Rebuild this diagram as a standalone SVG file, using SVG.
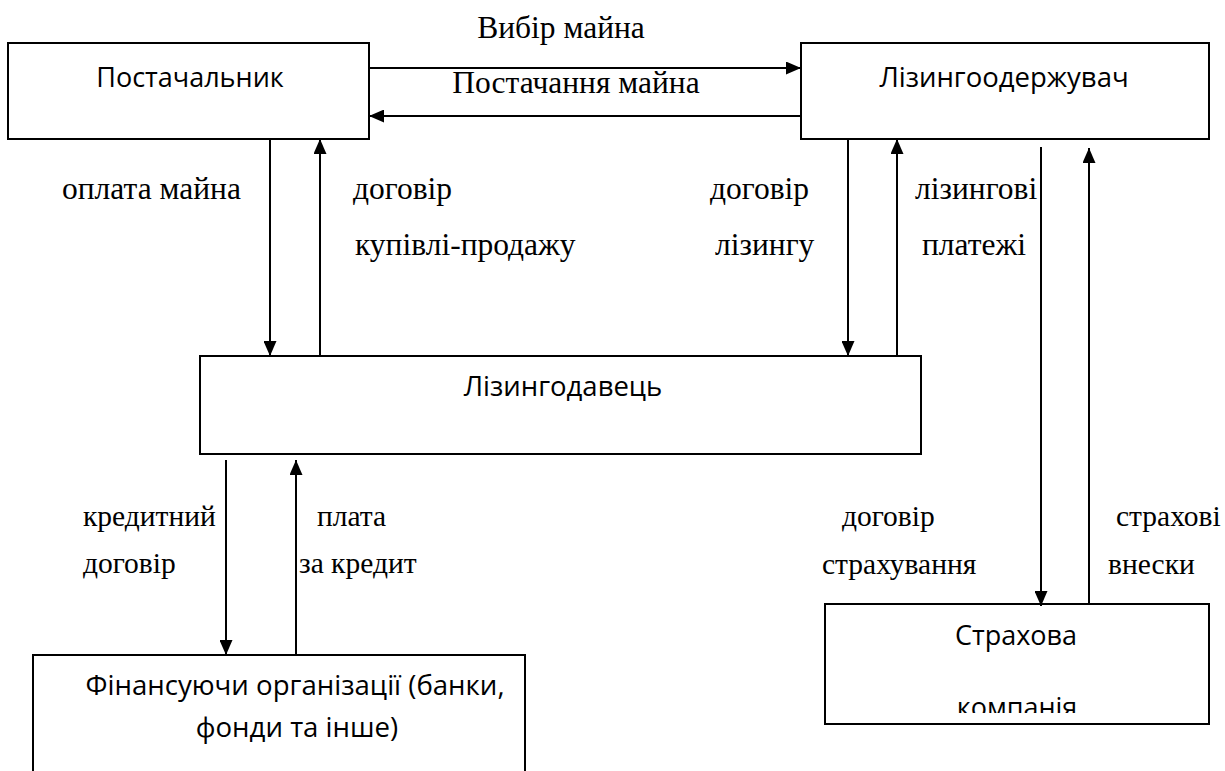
<svg xmlns="http://www.w3.org/2000/svg" width="1225" height="771" viewBox="0 0 1225 771">
<defs>
<marker id="ah" viewBox="0 0 15 13" refX="15" refY="6.5" markerWidth="15" markerHeight="13" markerUnits="userSpaceOnUse" orient="auto">
<path d="M0,0 L15,6.5 L0,13 Z" fill="#000"/>
</marker>
<clipPath id="clipIns"><rect x="825" y="603" width="386" height="110"/></clipPath>
</defs>
<style>
.box{fill:#fff;stroke:#000;stroke-width:2}
.node{font-family:"Open Sans","Noto Sans","DejaVu Sans",sans-serif;font-size:27px;fill:#000}
.lbl{font-family:"Liberation Serif","Times New Roman",serif;font-size:31.5px;fill:#000}
.lbl2{font-family:"Liberation Serif","Times New Roman",serif;font-size:29.5px;fill:#000}
.c{stroke:#000;stroke-width:2;fill:none}
.a{marker-end:url(#ah)}
</style>
<rect width="1225" height="771" fill="#fff"/>
<g id="supplier">
<rect class="box" x="8" y="43" width="361" height="96"/>
<text class="node" x="190" y="87" text-anchor="middle">Постачальник</text>
</g>
<g id="lessee">
<rect class="box" x="801" y="43" width="408" height="96"/>
<text class="node" x="1004" y="87" text-anchor="middle" style="font-size:27.5px">Лізингоодержувач</text>
</g>
<g id="lessor">
<rect class="box" x="200" y="356" width="721" height="98"/>
<text class="node" x="563" y="396" text-anchor="middle" style="font-size:27.5px">Лізингодавець</text>
</g>
<g id="finance">
<rect class="box" x="33" y="655" width="492" height="130"/>
<text class="node" x="295" y="695" text-anchor="middle" style="font-size:27.6px">Фінансуючи організації (банки,</text>
<text class="node" x="297" y="737" text-anchor="middle" style="font-size:27.6px">фонди та інше)</text>
</g>
<g id="insurance">
<rect class="box" x="825" y="604" width="384" height="120"/>
<text class="node" x="1016" y="645" text-anchor="middle">Страхова</text>
<text class="node" x="1017" y="717" text-anchor="middle" clip-path="url(#clipIns)">компанія</text>
</g>
<g id="connectors">
<line class="c a" x1="369" y1="68" x2="801" y2="68"/>
<line class="c a" x1="801" y1="116" x2="369" y2="116"/>
<line class="c a" x1="270" y1="139" x2="270" y2="356"/>
<line class="c a" x1="320" y1="356" x2="320" y2="139"/>
<line class="c a" x1="848" y1="139" x2="848" y2="356"/>
<line class="c a" x1="897" y1="356" x2="897" y2="139"/>
<line class="c a" x1="1041" y1="147" x2="1041" y2="606"/>
<line class="c a" x1="1089" y1="603" x2="1089" y2="148"/>
<line class="c a" x1="226" y1="460" x2="226" y2="655"/>
<line class="c a" x1="296" y1="655" x2="296" y2="460"/>
</g>
<g id="labels">
<text class="lbl" x="561" y="38" text-anchor="middle">Вибір майна</text>
<text class="lbl" x="576" y="93" text-anchor="middle">Постачання майна</text>
<text class="lbl" x="62" y="199">оплата майна</text>
<text class="lbl" x="353" y="199">договір</text>
<text class="lbl" x="355" y="255">купівлі-продажу</text>
<text class="lbl" x="710" y="199">договір</text>
<text class="lbl" x="715" y="255">лізингу</text>
<text class="lbl" x="915" y="199">лізингові</text>
<text class="lbl" x="922" y="255">платежі</text>
<text class="lbl2" x="83" y="526">кредитний</text>
<text class="lbl2" x="83" y="573">договір</text>
<text class="lbl2" x="317" y="526">плата</text>
<text class="lbl2" x="299" y="573">за кредит</text>
<text class="lbl2" x="842" y="526">договір</text>
<text class="lbl2" x="822" y="574">страхування</text>
<text class="lbl2" x="1116" y="526">страхові</text>
<text class="lbl2" x="1108" y="574">внески</text>
</g>
</svg>
